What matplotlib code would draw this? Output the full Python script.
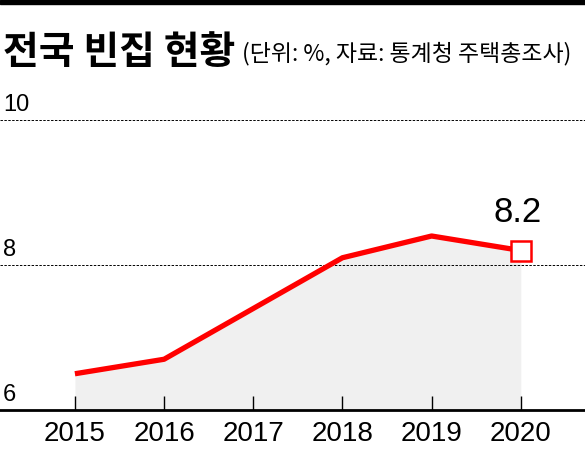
import matplotlib.pyplot as plt
from matplotlib.patches import Rectangle

# data
years = [2015, 2016, 2017, 2018, 2019, 2020]
vacancy_rate = [6.5, 6.7, 7.4, 8.1, 8.4, 8.2]
year_labels = ['2015', '2016', '2017', '2018', '2019', '2020']
y_grid = [8, 10]
y_labels = ['6', '8', '10']

num_font = ['Liberation Sans Narrow', 'Liberation Sans', 'DejaVu Sans']
kr_font = ['Noto Sans CJK KR', 'DejaVu Sans']

fig = plt.figure(figsize=(5.85, 4.49), dpi=100)
ax = fig.add_axes([0, 39 / 449, 1, (410 - 120) / 449])

ax.fill_between(years, 6, vacancy_rate, color='#f0f0f0', lw=0, zorder=1)
ax.plot(years, vacancy_rate, color='#ff0000', lw=3.8, solid_capstyle='butt', zorder=3)
ax.plot(years[-1], vacancy_rate[-1], marker='s', ms=14, mfc='white', mec='#ff0000',
        mew=1.8, zorder=4)
ax.text(years[-1] - 0.04, vacancy_rate[-1] + 0.3, f'{vacancy_rate[-1]}', ha='center',
        va='bottom', fontsize=25, family=num_font, zorder=5)

for g in y_grid:
    ax.axhline(g, color='black', lw=0.7, ls=(0, (2.5, 1.5)), zorder=2, clip_on=False)

for v, lab in zip([6, 8, 10], y_labels):
    ax.text(0.005, v + 0.05, lab, transform=ax.get_yaxis_transform(), ha='left',
            va='bottom', fontsize=17, family=num_font)

ax.set_xlim(2014.16, 2020.72)
ax.set_ylim(6, 10)
ax.set_xticks(years)
ax.set_xticklabels(year_labels, family=num_font, fontsize=20)
ax.set_yticks([])
ax.tick_params(axis='x', direction='in', length=10, width=1, pad=8)
for s in ['top', 'left', 'right']:
    ax.spines[s].set_visible(False)
ax.spines['bottom'].set_linewidth(2)
ax.set_facecolor('none')

fig.patches.append(Rectangle((0, 1 - 4 / 449), 1, 4 / 449, transform=fig.transFigure,
                             color='black', zorder=10))
fig.text(3 / 585, 1 - 64 / 449, '전국 빈집 현황', fontsize=28, fontweight='heavy',
         family=kr_font, ha='left', va='baseline')
fig.text(242 / 585, 1 - 60 / 449, '(단위: %, 자료: 통계청 주택총조사)', fontsize=16.5,
         family=kr_font, ha='left', va='baseline')

fig.savefig('out.png', dpi=100)
